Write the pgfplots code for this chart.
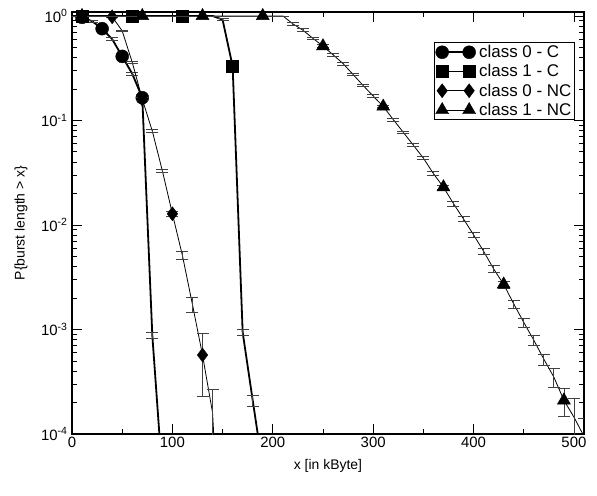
\documentclass[border=0pt]{standalone}
\usepackage{fontspec}
\setmainfont{Liberation Sans}
\usepackage{pgfplots}
\usepackage{pgfplotstable}
\pgfplotsset{compat=1.18}

% x [kByte], P, relative error
\pgfplotstableread{
x y r
0 1.0 0
10 0.97 0.02
20 0.89 0.02
30 0.755 0.02
40 0.60 0.03
50 0.41 0.03
60 0.28 0.03
70 0.165 0.03
80 8.8e-4 0.065
90 4e-5 0.1
}\cZeroC

\pgfplotstableread{
x y r
0 1.0 0
10 1.0 0
20 1.0 0
30 1.0 0
40 1.0 0
50 1.0 0
60 1.0 0
70 1.0 0
80 1.0 0
90 1.0 0
100 1.0 0
110 1.0 0
120 1.0 0
130 1.0 0
140 1.0 0
150 0.92 0.02
160 0.33 0.02
170 9.4e-4 0.07
180 2.1e-4 0.12
190 4.8e-5 0.2
}\cOneC

\pgfplotstableread{
x y r
0 1.0 0
10 1.0 0
20 1.0 0
30 1.0 0
40 0.98 0.01
50 0.72 0.02
60 0.36 0.03
70 0.16 0.03
80 0.079 0.03
90 0.033 0.04
100 0.0128 0.06
110 5.1e-3 0.09
120 1.73e-3 0.16
130 5.7e-4 0.6
140 1.6e-4 0.67
150 3e-6 0
}\cZeroNC

\pgfplotstableread{
x y r
0 1.0 0
10 1.0 0
20 1.0 0
30 1.0 0
40 1.0 0
50 1.0 0
60 1.0 0
70 1.0 0
80 1.0 0
90 1.0 0
100 1.0 0
110 1.0 0
120 1.0 0
130 1.0 0
140 1.0 0
150 1.0 0
160 1.0 0
170 1.0 0
180 1.0 0
190 1.0 0
200 1.0 0
210 1.0 0
220 0.84 0.03
230 0.73 0.03
240 0.61 0.03
250 0.514 0.03
260 0.425 0.03
270 0.35 0.03
280 0.275 0.03
290 0.216 0.03
300 0.171 0.03
310 0.136 0.03
320 0.102 0.03
330 0.077 0.03
340 0.058 0.03
350 0.0436 0.03
360 0.031 0.04
370 0.023 0.04
380 0.016 0.05
390 0.0114 0.05
400 8.05e-3 0.06
410 5.6e-3 0.06
420 3.8e-3 0.07
430 2.7e-3 0.08
440 1.76e-3 0.09
450 1.17e-3 0.1
460 7.9e-4 0.1
470 5.2e-4 0.12
480 3.5e-4 0.2
490 2.1e-4 0.3
500 1.45e-4 0.5
510 9.5e-5 0.5
}\cOneNC

\begin{document}
\begin{tikzpicture}[font=\fontsize{14}{17}\selectfont]
\useasboundingbox (-72bp,-62bp) rectangle (525bp,434bp);
\begin{axis}[
    at={(0,0)}, anchor=south west,
    scale only axis, width=512bp, height=422bp,
    ymode=log,
    xmin=0, xmax=510, ymin=1e-4, ymax=1.09,
    axis line style={line width=1.2bp},
    tick align=inside,
    major tick length=10bp, minor tick length=5bp,
    every tick/.style={black, line width=0.8bp},
    tick label style={font=\fontsize{15}{18}\selectfont},
    label style={font=\fontsize{14}{17}\selectfont},
    xtick={0,100,...,500}, minor x tick num=1,
    xticklabels={0,100,200,300,400,500},
    ytick={1e-4,1e-3,1e-2,1e-1,1},
    yticklabels={10\textsuperscript{-4},10\textsuperscript{-3},10\textsuperscript{-2},10\textsuperscript{-1},10\textsuperscript{0}},
    yticklabel style={xshift=-1bp},
    minor ytick={2e-4,3e-4,4e-4,5e-4,6e-4,7e-4,8e-4,9e-4,
                 2e-3,3e-3,4e-3,5e-3,6e-3,7e-3,8e-3,9e-3,
                 2e-2,3e-2,4e-2,5e-2,6e-2,7e-2,8e-2,9e-2,
                 0.2,0.3,0.4,0.5,0.6,0.7,0.8,0.9},
    xlabel={x [in kByte]},
    ylabel={P\{burst length > x\}},
    xlabel style={at={(axis description cs:0.5,0)}, anchor=center, yshift=-32bp},
    ylabel style={at={(axis description cs:0,0.5)}, anchor=center, yshift=51bp},
    clip mode=individual,
    legend style={at={(rel axis cs:0.982,0.929)}, anchor=north east,
        draw=black, line width=0.8bp, font=\fontsize{17}{20.5}\selectfont,
        inner sep=1bp, row sep=1.5bp, cells={anchor=west}},
    legend image code/.code={
        \path[draw=none, fill=none] (-7bp,-6bp) rectangle (35bp,6bp);
        \draw[#1, mark repeat=1, mark phase=1] plot coordinates {(0bp,0bp) (27bp,0bp)};},
    every axis plot/.append style={black},
    error bars/y dir=both,
    error bars/y explicit relative,
    error bars/error mark options={black!75, line width=0.8bp, mark size=6bp, rotate=90},
    error bars/error bar style={black!75, line width=0.8bp},
]

\addplot[line width=1.8bp, mark=*, mark size=6.5bp, mark repeat=2, mark phase=2,
    mark options={line width=0.4bp, fill=black}]
    table[x=x, y=y, y error=r] {\cZeroC};
\addlegendentry{class 0 - C}

\addplot[line width=1.8bp, mark=square*, mark size=6bp, mark repeat=5, mark phase=2,
    mark options={line width=0.4bp, fill=black}]
    table[x=x, y=y, y error=r] {\cOneC};
\addlegendentry{class 1 - C}

\addplot[line width=0.8bp, mark=diamond*, mark size=7bp, mark repeat=3, mark phase=2,
    mark options={line width=0.4bp, fill=black}]
    table[x=x, y=y, y error=r] {\cZeroNC};
\addlegendentry{class 0 - NC}

\addplot[line width=0.8bp, mark=triangle*, mark size=7.5bp, mark repeat=6, mark phase=2,
    mark options={line width=0.4bp, fill=black}]
    table[x=x, y=y, y error=r] {\cOneNC};
\addlegendentry{class 1 - NC}

\end{axis}
\end{tikzpicture}
\end{document}
